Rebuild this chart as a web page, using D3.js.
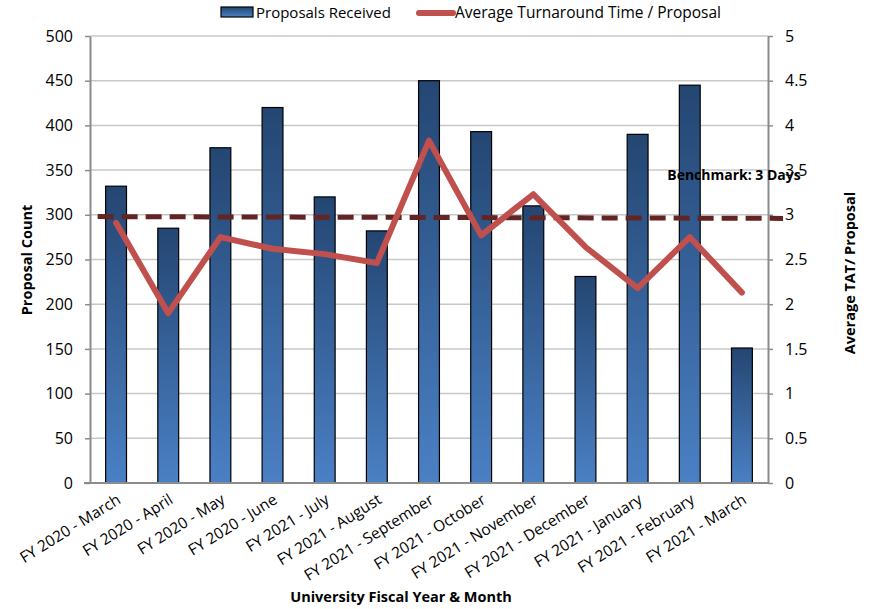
<!DOCTYPE html>
<html>
<head>
<meta charset="utf-8">
<script src="https://cdn.jsdelivr.net/npm/d3@7"></script>
<style>
  body { margin: 0; background: #fff; }
  text { font-family: 'Open Sans', sans-serif; fill: #000; }
</style>
</head>
<body>
<div id="chart"></div>
<script>
const months = ['FY 2020 - March', 'FY 2020 - April', 'FY 2020 - May', 'FY 2020 - June',
  'FY 2021 - July', 'FY 2021 - August', 'FY 2021 - September', 'FY 2021 - October',
  'FY 2021 - November', 'FY 2021 - December', 'FY 2021 - January', 'FY 2021 - February',
  'FY 2021 - March'];
const proposals = [332, 285, 375, 420, 320, 282, 450, 393, 310, 231, 390, 445, 151];
const turnaround = [2.91, 1.90, 2.75, 2.62, 2.56, 2.46, 3.83, 2.77, 3.23, 2.64, 2.18, 2.75, 2.13];
const benchmark = 2.98;
const leftTicks = [0, 50, 100, 150, 200, 250, 300, 350, 400, 450, 500];
const rightTicks = [0, 0.5, 1, 1.5, 2, 2.5, 3, 3.5, 4, 4.5, 5];

const width = 872;
const height = 609;
const margin = {top: 36, right: 104, bottom: 126, left: 90};

const svg = d3.select('#chart').append('svg')
  .attr('width', width)
  .attr('height', height);

const defs = svg.append('defs');
const grad = defs.append('linearGradient')
  .attr('id', 'barGrad')
  .attr('x1', 0).attr('y1', 0).attr('x2', 0).attr('y2', 1);
grad.append('stop').attr('offset', '0%').attr('stop-color', '#244672');
grad.append('stop').attr('offset', '100%').attr('stop-color', '#4a80c4');

const x = d3.scaleBand()
  .domain(months)
  .range([margin.left, width - margin.right])
  .paddingInner(0.6)
  .paddingOuter(0.3);
const yLeft = d3.scaleLinear().domain([0, 500]).range([height - margin.bottom, margin.top]);
const yRight = d3.scaleLinear().domain([0, 5]).range([height - margin.bottom, margin.top]);

// gridlines
svg.append('g')
  .selectAll('line')
  .data(leftTicks.slice(1))
  .join('line')
  .attr('x1', margin.left)
  .attr('x2', width - margin.right)
  .attr('y1', d => yLeft(d))
  .attr('y2', d => yLeft(d))
  .attr('stroke', '#c8c8c8')
  .attr('stroke-width', 1.5);

// bars
svg.append('g')
  .selectAll('rect')
  .data(proposals)
  .join('rect')
  .attr('x', (d, i) => x(months[i]))
  .attr('width', x.bandwidth())
  .attr('y', d => yLeft(d))
  .attr('height', d => yLeft(0) - yLeft(d))
  .attr('fill', 'url(#barGrad)')
  .attr('stroke', '#000')
  .attr('stroke-width', 1.2);

// axes
const axisColor = '#8c8c8c';
function styleAxis(g) {
  g.select('.domain').attr('stroke', axisColor).attr('stroke-width', 2);
  g.selectAll('.tick line').attr('stroke', axisColor).attr('stroke-width', 1.5);
  g.selectAll('.tick text').style('font-size', '16px').attr('fill', '#000');
}

svg.append('g')
  .attr('transform', 'translate(' + margin.left + ',0)')
  .call(d3.axisLeft(yLeft).tickValues(leftTicks).tickSize(5).tickSizeOuter(0).tickPadding(12))
  .call(styleAxis);

svg.append('g')
  .attr('transform', 'translate(' + (width - margin.right) + ',0)')
  .call(d3.axisRight(yRight).tickValues(rightTicks).tickFormat(d3.format('~g'))
    .tickSize(5).tickSizeOuter(0).tickPadding(12))
  .call(styleAxis);

const xAxis = svg.append('g')
  .attr('transform', 'translate(0,' + (height - margin.bottom) + ')')
  .call(d3.axisBottom(x).tickSize(0).tickSizeOuter(0).tickPadding(10))
  .call(styleAxis);
xAxis.select('.domain').attr('d', 'M' + (margin.left - 6) + ',0H' + (width - margin.right));
xAxis.selectAll('.tick text')
  .style('font-size', '15.5px')
  .attr('text-anchor', 'end')
  .attr('dy', '0.3em')
  .attr('transform', 'translate(-2,7) rotate(-32)');

// benchmark line
svg.append('line')
  .attr('x1', x(months[0]) - 8)
  .attr('x2', width - margin.right + 15)
  .attr('y1', yRight(benchmark))
  .attr('y2', yRight(benchmark - 0.02))
  .attr('stroke', '#632523')
  .attr('stroke-width', 5)
  .attr('stroke-dasharray', '16,8');

// turnaround line
svg.append('path')
  .datum(turnaround)
  .attr('fill', 'none')
  .attr('stroke', '#c0504d')
  .attr('stroke-width', 6)
  .attr('stroke-linejoin', 'round')
  .attr('stroke-linecap', 'round')
  .attr('d', d3.line()
    .x((d, i) => x(months[i]) + x.bandwidth() / 2)
    .y(d => yRight(d)));

svg.append('text')
  .attr('x', 734)
  .attr('y', yRight(3.5) + 10)
  .attr('text-anchor', 'middle')
  .style('font-size', '14px')
  .style('font-weight', 'bold')
  .text('Benchmark: 3 Days');

// axis titles
svg.append('text')
  .attr('transform', 'translate(32,' + 260 + ') rotate(-90)')
  .attr('text-anchor', 'middle')
  .style('font-size', '14.5px')
  .style('font-weight', 'bold')
  .text('Proposal Count');

svg.append('text')
  .attr('transform', 'translate(855,' + 273 + ') rotate(-90)')
  .attr('text-anchor', 'middle')
  .style('font-size', '14.5px')
  .style('font-weight', 'bold')
  .text('Average TAT/ Proposal');

svg.append('text')
  .attr('x', 401)
  .attr('y', 602)
  .attr('text-anchor', 'middle')
  .style('font-size', '14.5px')
  .style('font-weight', 'bold')
  .text('University Fiscal Year & Month');

// legend
const legend = svg.append('g');
legend.append('rect')
  .attr('x', 221).attr('y', 7).attr('width', 32).attr('height', 10)
  .attr('fill', 'url(#barGrad)').attr('stroke', '#000').attr('stroke-width', 1.2);
legend.append('text')
  .attr('x', 256).attr('y', 18)
  .style('font-size', '15px')
  .text('Proposals Received');
legend.append('line')
  .attr('x1', 419).attr('x2', 453).attr('y1', 13).attr('y2', 13)
  .attr('stroke', '#c0504d').attr('stroke-width', 6).attr('stroke-linecap', 'round');
legend.append('text')
  .attr('x', 455).attr('y', 18)
  .style('font-size', '15.5px')
  .text('Average Turnaround Time / Proposal');
</script>
</body>
</html>
